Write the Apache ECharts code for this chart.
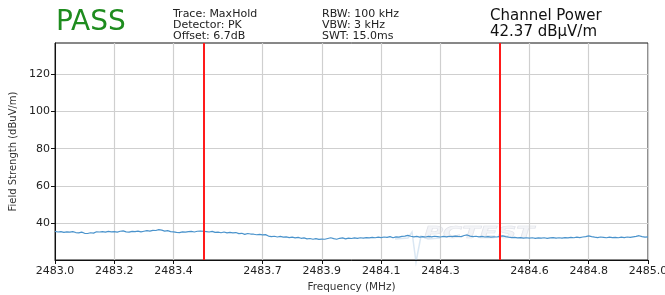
<!DOCTYPE html>
<html><head><meta charset="utf-8">
<script src="https://cdn.jsdelivr.net/npm/echarts@6/dist/echarts.min.js"></script>
<style>html,body{margin:0;padding:0;background:#fff}#c{width:665px;height:295px}</style>
</head><body><div id="c"></div>
<script>
const xTickLabels = [2483.0, 2483.2, 2483.4, 2483.7, 2483.9, 2484.1, 2484.3, 2484.6, 2484.8, 2485.0];
const yTickLabels = [40, 60, 80, 100, 120];
const markerFreqs = [2483.5, 2484.5];
const startFreq = 2483.0;
const stepFreq = 0.01;
const traceValues = [
  35.4, 35.1, 35.3, 34.9, 35.2, 35.0, 35.3, 34.8, 34.6, 35.0,
  34.4, 34.3, 34.7, 34.5, 35.2, 35.1, 35.3, 35.0, 35.4, 35.2,
  35.3, 35.0, 35.5, 35.7, 35.2, 35.0, 35.4, 35.3, 35.6, 35.2,
  35.5, 35.8, 35.6, 36.0, 35.9, 36.4, 36.1, 35.6, 35.8, 35.3,
  35.2, 34.9, 34.8, 35.2, 35.0, 35.3, 35.4, 35.1, 35.5, 35.6,
  35.5, 35.3, 35.1, 35.4, 34.9, 35.0, 34.7, 35.1, 34.6, 34.9,
  34.6, 34.8, 34.2, 34.4, 33.8, 34.3, 34.0, 33.9, 33.6, 33.8,
  33.5, 33.7, 32.9, 32.6, 32.8, 32.4, 32.7, 32.3, 32.5, 32.1,
  32.3, 31.9, 32.2, 31.7, 31.9, 31.4, 31.6, 31.2, 31.5, 31.1,
  31.3, 31.2, 31.6, 32.0, 31.5, 31.2, 31.7, 31.9, 31.4, 31.8,
  31.6, 31.9, 31.7, 32.0, 31.8, 32.1, 31.9, 32.2, 32.0, 32.3,
  32.1, 32.4, 32.2, 32.6, 32.0, 32.5, 32.3, 32.7, 32.9, 33.3,
  32.8, 32.5, 32.7, 32.3, 32.6, 32.4, 32.7, 32.5, 32.8, 32.6,
  32.4, 32.7, 32.5, 32.8, 32.6, 32.9, 32.7, 32.6, 33.2, 33.5,
  32.9, 32.6, 32.8, 32.5, 32.7, 32.4, 32.6, 32.3, 32.5, 32.4,
  32.7, 33.0, 32.6, 32.3, 32.1, 32.2, 31.9, 32.1, 31.8, 32.0,
  31.8, 32.0, 31.7, 31.9, 31.8, 32.0, 31.7, 31.9, 32.1, 31.8,
  32.0, 31.8, 32.1, 31.9, 32.2, 32.0, 32.3, 32.1, 32.4, 32.6,
  33.0, 32.6, 32.3, 32.1, 32.4, 32.2, 32.0, 32.3, 32.1, 32.2,
  32.0, 32.3, 32.1, 32.4, 32.2, 32.5, 32.7, 33.1, 32.6, 32.3,
  32.5
];
const headerLeft = ['Trace: MaxHold', 'Detector: PK', 'Offset: 6.7dB'];
const headerMid = ['RBW: 100 kHz', 'VBW: 3 kHz', 'SWT: 15.0ms'];
const passText = 'PASS';
const powerTitle = 'Channel Power';
const powerValue = '42.37 dBμV/m';
const watermarkText = 'PCTEST';

const traceData = traceValues.map((v, i) => [+(startFreq + i * stepFreq).toFixed(2), v]);
const F = 'DejaVu Sans';

const chart = echarts.init(document.getElementById('c'), null, {renderer: 'canvas'});
const headerText = (lines, x) => ({
  type: 'text', left: x, top: 9,
  style: {text: lines.join('\n'), font: '11px "DejaVu Sans"', fill: '#222', lineHeight: 11}
});
chart.setOption({
  animation: false,
  grid: {left: 55, right: 17, top: 43, bottom: 35, outerBoundsMode: 'none', containLabel: false,
    show: true, borderColor: '#111', borderWidth: 1, backgroundColor: 'transparent'},
  xAxis: {
    type: 'value', min: 2483.0, max: 2485.0,
    name: 'Frequency (MHz)', nameLocation: 'middle', nameGap: 20,
    nameTextStyle: {fontFamily: F, fontSize: 10.5, color: '#333'},
    axisLine: {show: true, onZero: false, lineStyle: {color: '#111'}},
    axisTick: {show: true, customValues: xTickLabels, length: 4, lineStyle: {color: '#111'}},
    axisLabel: {customValues: xTickLabels, fontFamily: F, fontSize: 11, color: '#222', margin: 6,
      formatter: v => v.toFixed(1)},
    splitLine: {show: true, lineStyle: {color: '#cfcfcf', width: 1.2}}
  },
  yAxis: {
    type: 'value', min: 20, max: 137,
    name: 'Field Strength (dBuV/m)', nameLocation: 'middle', nameGap: 32,
    nameTextStyle: {fontFamily: F, fontSize: 10, color: '#333'},
    axisLine: {show: true, onZero: false, lineStyle: {color: '#111'}},
    axisTick: {show: true, customValues: yTickLabels, length: 4, lineStyle: {color: '#111'}},
    axisLabel: {customValues: yTickLabels, fontFamily: F, fontSize: 11, color: '#222', margin: 5},
    splitLine: {show: true, lineStyle: {color: '#cfcfcf', width: 1.2}}
  },
  graphic: [
    {type: 'text', left: 56, top: 9, style: {text: passText, font: '28px "DejaVu Sans"', fill: '#1e8c1e'}},
    headerText(headerLeft, 173),
    headerText(headerMid, 322),
    {type: 'text', left: 490, top: 9, style: {text: powerTitle, font: '15px "DejaVu Sans"', fill: '#111'}},
    {type: 'text', left: 490, top: 25, style: {text: powerValue, font: '15px "DejaVu Sans"', fill: '#111'}},
    {type: 'polyline', z: 0, shape: {points: [[395, 239], [408, 238], [412, 232], [416, 262], [421, 236], [428, 239], [440, 238]]},
      style: {stroke: 'rgba(150,185,220,0.35)', lineWidth: 1.5, fill: null}},
    {type: 'text', x: 424, y: 226, scaleY: 0.62, z: 0, style: {text: watermarkText, font: 'italic bold 26px "DejaVu Sans"', fill: 'rgba(235,237,242,0.6)', stroke: 'rgba(200,204,214,0.6)', lineWidth: 1}}
  ],
  series: [{
    type: 'line', data: traceData, showSymbol: false, symbol: 'none',
    lineStyle: {color: '#4a93cc', width: 1.2}, z: 3,
    markLine: {
      silent: true, symbol: 'none', label: {show: false},
      lineStyle: {color: '#ff1a1a', width: 2, type: 'solid'},
      data: markerFreqs.map(f => ({xAxis: f}))
    }
  }]
});
</script></body></html>
